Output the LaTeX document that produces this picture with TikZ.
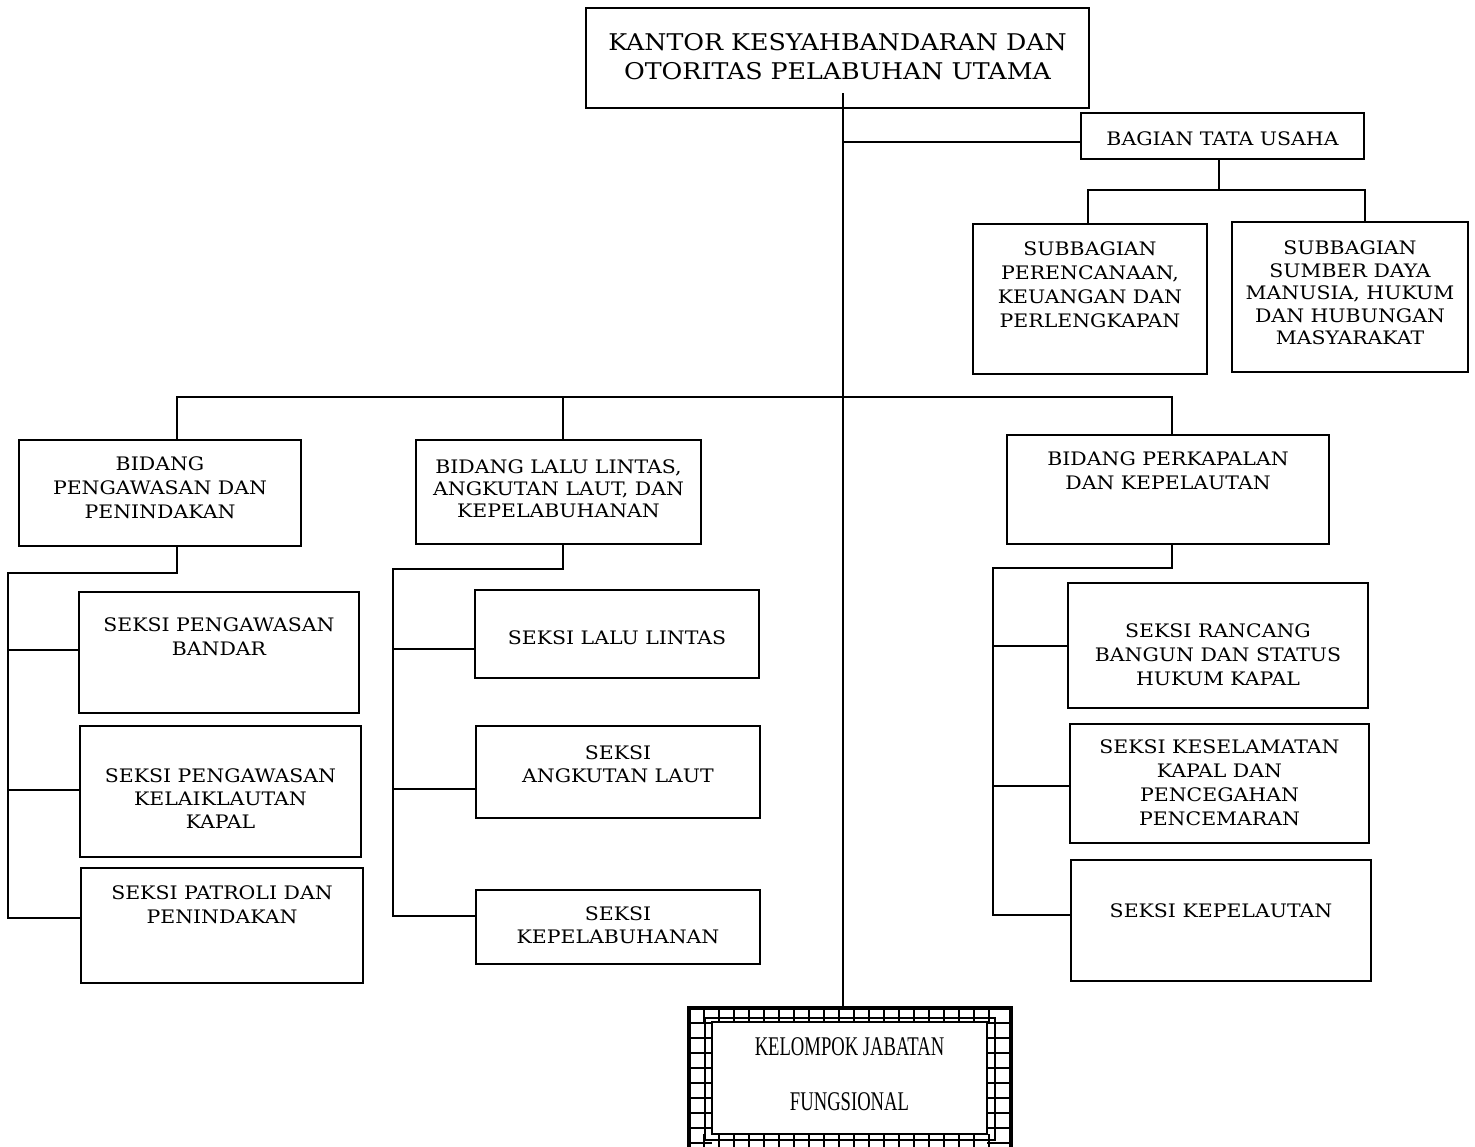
\documentclass[tikz,border=0pt]{standalone}
\usepackage{fontspec}
\setmainfont{DejaVu Serif}[FakeStretch=1.1]
\newfontfamily\kelfont{Liberation Serif}[FakeStretch=0.69]
\usetikzlibrary{fit}
\begin{document}
\begin{tikzpicture}[x=0.5pt,y=-0.5pt,
  box/.style={draw, line width=1pt, inner sep=0pt},
  txt/.style={align=center, inner sep=0pt, font=\fontsize{9.3}{12}\selectfont},
  conn/.style={line width=0.8pt}]
\useasboundingbox (0,0) rectangle (1475,1146);
\clip (0,0) rectangle (1475,1146);
\fill[white] (0,0) rectangle (1475,1146);

% boxes
\node[box, fit={(586,8)(1089,108)}] (top) {};
\node[box, fit={(1081,113)(1364,159)}] (bag) {};
\node[box, fit={(973,224)(1207,374)}] (sub1) {};
\node[box, fit={(1232,222)(1468,372)}] (sub2) {};
\node[box, fit={(19,440)(301,546)}] (b1) {};
\node[box, fit={(416,440)(701,544)}] (b2) {};
\node[box, fit={(1007,435)(1329,544)}] (b3) {};
\node[box, fit={(79,592)(359,713)}] (s1) {};
\node[box, fit={(80,726)(361,857)}] (s2) {};
\node[box, fit={(81,868)(363,983)}] (s3) {};
\node[box, fit={(475,590)(759,678)}] (l1) {};
\node[box, fit={(476,726)(760,818)}] (l2) {};
\node[box, fit={(476,890)(760,964)}] (l3) {};
\node[box, fit={(1068,583)(1368,708)}] (r1) {};
\node[box, fit={(1070,724)(1369,843)}] (r2) {};
\node[box, fit={(1071,860)(1371,981)}] (r3) {};

% bottom framed box
\node[draw, line width=2pt, inner sep=0pt, fit={(689,1008)(1011,1162)}] (kel) {};
\draw[line width=0.6pt] (705,1018) rectangle (995,1140);
\foreach \x in {704,719,...,1000} \draw[line width=0.7pt] (\x,1008) -- (\x,1022) (\x,1134) -- (\x,1162);
\foreach \y in {1023,1038,...,1160} \draw[line width=0.7pt] (689,\y) -- (712,\y) (987,\y) -- (1011,\y);
\node[draw, line width=1.2pt, fill=white, inner sep=0pt, fit={(712,1022)(987,1134)}] (kelin) {};

% texts
\node[txt, font=\fontsize{11.5}{14.5}\selectfont] (topT) at (837.5,56.5) {KANTOR KESYAHBANDARAN DAN\\OTORITAS PELABUHAN UTAMA};
\node[txt] (bagT) at (1222.5,139) {BAGIAN TATA USAHA};
\node[txt] (sub1T) at (1090,284.5) {SUBBAGIAN\\PERENCANAAN,\\KEUANGAN DAN\\PERLENGKAPAN};
\node[txt, font=\fontsize{9.3}{11.3}\selectfont] (sub2T) at (1350,293) {SUBBAGIAN\\SUMBER DAYA\\MANUSIA, HUKUM\\DAN HUBUNGAN\\MASYARAKAT};
\node[txt] (b1T) at (160,488) {BIDANG\\PENGAWASAN DAN\\PENINDAKAN};
\node[txt, font=\fontsize{9.3}{11}\selectfont] (b2T) at (558.5,489) {BIDANG LALU LINTAS,\\ANGKUTAN LAUT, DAN\\KEPELABUHANAN};
\node[txt] (b3T) at (1168,471) {BIDANG PERKAPALAN\\DAN KEPELAUTAN};
\node[txt] (s1T) at (219,636.5) {SEKSI PENGAWASAN\\BANDAR};
\node[txt, font=\fontsize{9.3}{11.5}\selectfont] (s2T) at (220.5,799) {SEKSI PENGAWASAN\\KELAIKLAUTAN\\KAPAL};
\node[txt] (s3T) at (222,905) {SEKSI PATROLI DAN\\PENINDAKAN};
\node[txt] (l1T) at (617,637.5) {SEKSI LALU LINTAS};
\node[txt, font=\fontsize{9.3}{11.75}\selectfont] (l2T) at (618,764) {SEKSI\\ANGKUTAN LAUT};
\node[txt, font=\fontsize{9.3}{11.5}\selectfont] (l3T) at (618,925.5) {SEKSI\\KEPELABUHANAN};
\node[txt] (r1T) at (1218,655) {SEKSI RANCANG\\BANGUN DAN STATUS\\HUKUM KAPAL};
\node[txt] (r2T) at (1219.5,783) {SEKSI KESELAMATAN\\KAPAL DAN\\PENCEGAHAN\\PENCEMARAN};
\node[txt] (r3T) at (1221,911) {SEKSI KEPELAUTAN};
\node[align=center, inner sep=0pt, font=\kelfont\fontsize{13.5}{27.5}\selectfont] (kelT) at (849.5,1074.5) {KELOMPOK JABATAN\\FUNGSIONAL};

% connectors
\coordinate (t0) at (843,93);
\draw[conn] (t0) -- (t0 |- kel.north);
\coordinate (tb) at (843,142);
\draw[conn] (tb) -- (tb -| bag.west);
\coordinate (bj) at (1219,190);
\coordinate (bl) at (1088,190);
\coordinate (br) at (1365,190);
\draw[conn] (bj |- bag.south) -- (bj);
\draw[conn] (bl |- sub1.north) -- (bl) -- (br) -- (br |- sub2.north);

\coordinate (m1) at (177,397);
\coordinate (m2) at (563,397);
\coordinate (m3) at (1172,397);
\draw[conn] (m1 |- b1.north) -- (m1) -- (m3) -- (m3 |- b3.north);
\draw[conn] (m2) -- (m2 |- b2.north);

\coordinate (p1) at (177,573);
\coordinate (p2) at (8,573);
\coordinate (a1) at (8,650);
\coordinate (a2) at (8,790);
\coordinate (a3) at (8,918);
\draw[conn] (p1 |- b1.south) -- (p1) -- (p2) -- (a3) -- (a3 -| s3.west);
\draw[conn] (a1) -- (a1 -| s1.west);
\draw[conn] (a2) -- (a2 -| s2.west);

\coordinate (q1) at (563,569);
\coordinate (q2) at (393,569);
\coordinate (c1) at (393,649);
\coordinate (c2) at (393,789);
\coordinate (c3) at (393,916);
\draw[conn] (q1 |- b2.south) -- (q1) -- (q2) -- (c3) -- (c3 -| l3.west);
\draw[conn] (c1) -- (c1 -| l1.west);
\draw[conn] (c2) -- (c2 -| l2.west);

\coordinate (u1) at (1172,568);
\coordinate (u2) at (993,568);
\coordinate (d1) at (993,646);
\coordinate (d2) at (993,786);
\coordinate (d3) at (993,915);
\draw[conn] (u1 |- b3.south) -- (u1) -- (u2) -- (d3) -- (d3 -| r3.west);
\draw[conn] (d1) -- (d1 -| r1.west);
\draw[conn] (d2) -- (d2 -| r2.west);
\end{tikzpicture}
\end{document}
